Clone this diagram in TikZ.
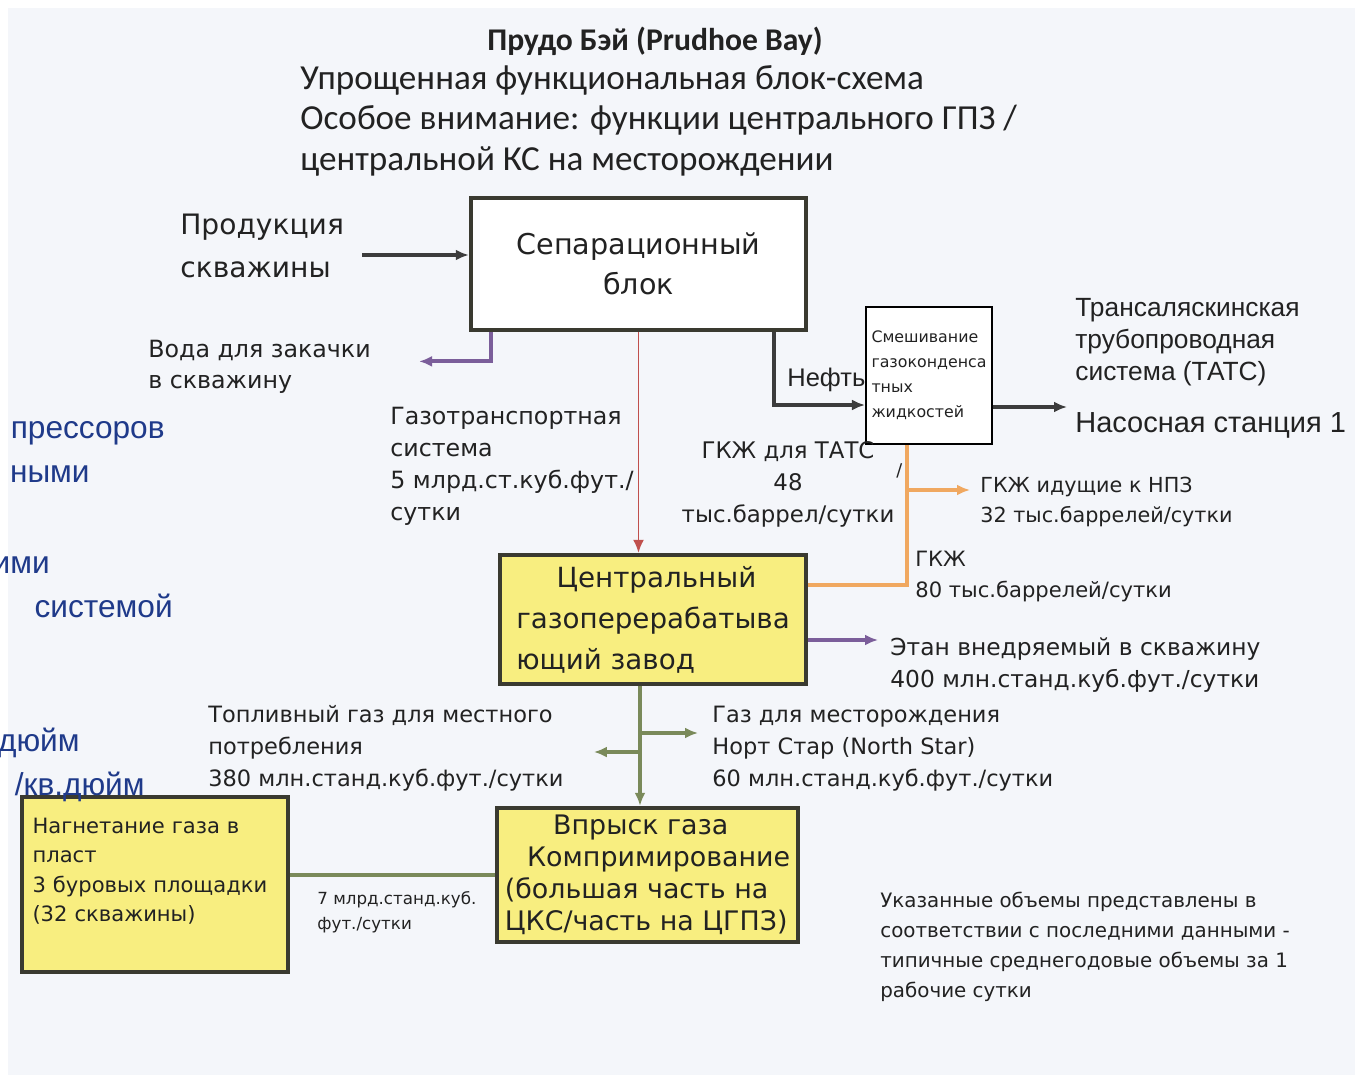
\documentclass[tikz,border=0pt]{standalone}
\usepackage{fontspec}
\setmainfont{DejaVu Sans}
\newfontfamily\carlito{Carlito}
\newfontfamily\arial{Liberation Sans}
\usetikzlibrary{arrows.meta, positioning, calc}
\definecolor{cdark}{HTML}{3C3C3C}
\definecolor{ctext}{HTML}{222222}
\definecolor{cborder}{HTML}{3A3A30}
\definecolor{cyellow}{HTML}{F8EE80}
\definecolor{cred}{HTML}{C0504D}
\definecolor{cviolet}{HTML}{7B5E9A}
\definecolor{corange}{HTML}{F0A860}
\definecolor{cgreen}{HTML}{7A8A5A}
\definecolor{cblue}{HTML}{1F3A8A}
\definecolor{cbg}{HTML}{F4F6FA}
\newcommand\fsz[2]{\fontsize{#1}{#2}\selectfont}
\tikzset{
  lbl/.style={anchor=base west, inner sep=0pt, align=left, text=ctext},
  box/.style={draw=cborder, fill=cyellow, line width=2.5pt, inner sep=4pt, text=ctext},
  arrow/.style={-{Latex[length=2.6mm, width=2.2mm]}, draw=#1, line width=2.2pt},
  arrow/.default=cdark,
  flow/.style={draw=#1, line width=2.2pt},
  blue/.style={anchor=base east, inner sep=0pt, text=cblue, font=\arial\fsz{18}{22}},
}

\begin{document}
\begin{tikzpicture}[x=0.02cm, y=-0.02cm]
  \fill[white] (0,0) rectangle (1355,1082);
  \fill[cbg] (8,8) rectangle (1355,1075);
  \useasboundingbox (0,0) rectangle (1355,1082);
  \node[lbl, anchor=base, font=\carlito\bfseries\fsz{18}{22}] (title) at (655,50) {Прудо Бэй (Prudhoe Bay)};
  \node[lbl, font=\carlito\fsz{20}{22.8}] (sub) at (300,170) {Упрощенная функциональная блок-схема\\Особое внимание: функции центрального ГПЗ /\\центральной КС на месторождении};
  \node[box, fill=white, minimum width=6.7cm, minimum height=2.64cm, align=center, font=\fsz{16.3}{22.8}] (sep) at (638.5,264) {Сепарационный\\блок};
  \node[box, fill=white, draw=black, line width=1.2pt, minimum width=2.52cm, minimum height=2.74cm, inner sep=2pt, align=left, font=\fsz{9}{14.2}] (mix) at (929,375.5) {Смешивание\\газоконденса\\тных\\жидкостей};
  \node[box, minimum width=6.12cm, minimum height=2.58cm, align=left, font=\fsz{15.8}{23.3}] (gpz) at (653,619.5) {\hspace*{1.45em}Центральный\\газоперерабатыва\\ющий завод};
  \node[box, minimum width=6.02cm, minimum height=2.68cm, align=left, font=\fsz{15.3}{18.2}] (inj) at (647.5,875) {\hspace*{1.8em}Впрыск газа\\\hspace*{0.83em}Компримирование\\(большая часть на\\ЦКС/часть на ЦГПЗ)};
  \node[box, minimum width=5.32cm, minimum height=3.5cm, text width=4.9cm, align=left, font=\fsz{12}{16.8}] (pump) at (155,884.5) {Нагнетание газа в\\пласт\\3 буровых площадки\\(32 скважины)\\\mbox{}};

  \node[lbl, font=\fsz{16}{24}] (prod) at (180,277) {Продукция\\скважины};
  \node[lbl, font=\fsz{13.5}{17.6}] (water) at (148,388) {Вода для закачки\\в скважину};
  \node[lbl, font=\fsz{13.5}{18.2}] (gts) at (390,520) {Газотранспортная\\система\\5 млрд.ст.куб.фут./\\сутки};
  \node[lbl, font=\arial\fsz{14.5}{18}] (oil) at (787,386) {Нефть};
  \node[lbl, font=\arial\fsz{15}{18.2}] (taps) at (1075,380) {Трансаляскинская\\трубопроводная\\система (ТАТС)};
  \node[lbl, font=\arial\fsz{16.5}{20}] (station) at (1075,432) {Насосная станция 1};
  \node[lbl, anchor=base, align=center, font=\fsz{13}{18.2}] (ngltaps) at (788,522) {ГКЖ для ТАТС\\48\\тыс.баррел/сутки};
  \node[lbl, font=\fsz{10}{12}] (slash) at (896,476) {/};
  \node[lbl, font=\fsz{11.8}{17}] (refinery) at (980,522) {ГКЖ идущие к НПЗ\\32 тыс.баррелей/сутки};
  \node[lbl, font=\fsz{12}{17.6}] (ngl) at (915,597) {ГКЖ\\80 тыс.баррелей/сутки};
  \node[lbl, font=\fsz{13.3}{18.2}] (ethane) at (890,687) {Этан внедряемый в скважину\\400 млн.станд.куб.фут./сутки};
  \node[lbl, font=\fsz{12.8}{18}] (fuel) at (208,786) {Топливный газ для местного\\потребления\\380 млн.станд.куб.фут./сутки};
  \node[lbl, font=\fsz{12.8}{18}] (nstar) at (712,786) {Газ для месторождения\\Норт Стар (North Star)\\60 млн.станд.куб.фут./сутки};
  \node[lbl, font=\fsz{9.5}{14.2}] (rate) at (317,929) {7 млрд.станд.куб.\\фут./сутки};
  \node[lbl, font=\fsz{11.3}{17}] (note) at (880,997) {Указанные объемы представлены в\\соответствии с последними данными -\\типичные среднегодовые объемы за 1\\рабочие сутки};

  \coordinate (prodout) at (362,255);
  \draw[arrow] (prodout) -- (prodout -| sep.west);
  \draw[arrow=cviolet] ([xshift=0.44cm]sep.south west) |- ([xshift=0.96cm, yshift=0.1cm]water.east);
  \draw[arrow=cred, line width=1.1pt] (sep.south) -- (sep.south |- gpz.north);
  \draw[arrow] ([xshift=-0.68cm]sep.south east) |- ([yshift=-0.59cm]mix.west);
  \draw[arrow, shorten >=0.16cm] ([yshift=-0.63cm]mix.east) -- ([yshift=-0.63cm]mix.east -| station.west);
  \draw[flow=corange] ([yshift=0.69cm]gpz.east) -| ([xshift=-0.44cm]mix.south);
  \coordinate (nglsplit) at (907,490);
  \draw[arrow=corange, shorten >=0.2cm] (nglsplit) -- (nglsplit -| refinery.west);
  \draw[arrow=cviolet, shorten >=0.24cm] ([yshift=-0.41cm]gpz.east) -- ([yshift=-0.41cm]gpz.east -| ethane.west);
  \draw[arrow=cgreen] ([xshift=-0.26cm]gpz.south) -- ([xshift=-0.26cm]gpz.south |- inj.north);
  \coordinate (gasright) at (640,733);
  \coordinate (gasleft) at (640,752);
  \draw[arrow=cgreen, shorten >=0.28cm] (gasright) -- (gasright -| nstar.west);
  \draw[arrow=cgreen, shorten >=0.6cm] (gasleft) -- (gasleft -| fuel.east);
  \draw[flow=cgreen] (inj.west) -- (inj.west -| pump.east);

  \foreach \t/\x/\y [count=\i] in {прессоров/165/438, ными/90/482, ими/50/573, системой/173/617, дюйм/80/751, {\slash кв.дюйм}/145/795}
    \node[blue] (frag\i) at (\x,\y) {\t};
\end{tikzpicture}
\end{document}
